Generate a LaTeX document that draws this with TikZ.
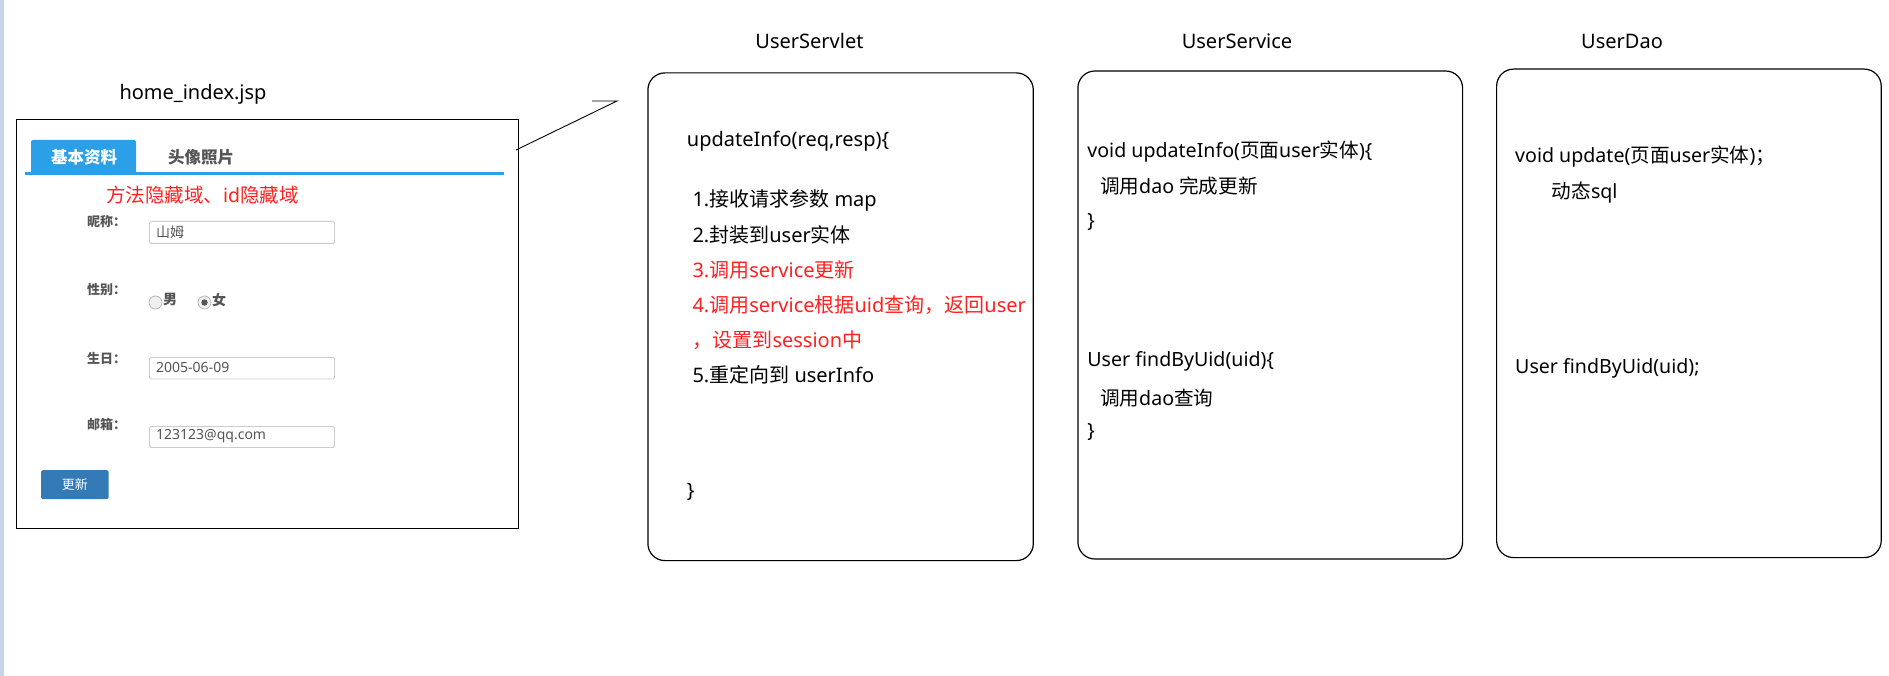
\documentclass[tikz,border=0pt]{standalone}
\usepackage{fontspec}
\setmainfont{Noto Sans}
\newfontfamily\cjf{Noto Sans CJK SC}
\newcommand\C[1]{{\cjf #1}}
\definecolor{stripcol}{RGB}{201,211,230}
\definecolor{tabblue}{RGB}{43,160,232}
\definecolor{labelgray}{RGB}{85,85,85}
\definecolor{inputborder}{RGB}{204,204,204}
\definecolor{intextgray}{RGB}{85,85,85}
\definecolor{btnblue}{RGB}{51,122,183}
\definecolor{hintred}{RGB}{255,32,32}
\begin{document}
\begin{tikzpicture}[x=1pt,y=-1pt,
  txt/.style={inner sep=0pt, anchor=west, font=\fontsize{19.6}{19.6}\selectfont},
  stxt/.style={inner sep=0pt, anchor=west, font=\fontsize{20}{20}\selectfont},
  redtxt/.style={stxt, text=hintred},
  titletxt/.style={inner sep=0pt, font=\fontsize{20}{20}\selectfont},
  rbox/.style={draw=black, line width=1.2pt, rounded corners=17pt, anchor=north west, inner sep=0pt},
  lbl/.style={inner sep=0pt, anchor=west, text=labelgray, font=\cjf\fontsize{13}{13}\selectfont\bfseries},
  inbox/.style={draw=inputborder, fill=white, line width=0.9pt, rounded corners=1.5pt, minimum width=185pt, anchor=north west, inner sep=0pt},
  intext/.style={inner sep=0pt, anchor=west, text=intextgray, font=\fontsize{14}{14}\selectfont},
  radio/.style={circle, draw=gray!55, fill=gray!12, line width=0.8pt, minimum size=13pt, inner sep=0pt}]
\useasboundingbox (0,0) rectangle (1889,676);
\fill[stripcol] (0,0) rectangle (4,676);

% ---- home_index.jsp form
\node[titletxt] (formtitle) at (193,94) {home\_index.jsp};
\node[draw=black, line width=1pt, minimum width=501.5pt, minimum height=409pt, anchor=north west, inner sep=0pt] (form) at (16,119) {};
\fill[tabblue, rounded corners=2pt] (31,140) rectangle (136,175);
\fill[tabblue] (25,172) rectangle (504,175);
\node[inner sep=0pt, text=white, font=\cjf\fontsize{16.5}{16.5}\selectfont\bfseries] (tab1) at (84,157) {基本资料};
\node[inner sep=0pt, text=labelgray, font=\cjf\fontsize{16.5}{16.5}\selectfont\bfseries] (tab2) at (201,157) {头像照片};
\node[inner sep=0pt, anchor=west, text=hintred, font=\fontsize{19.5}{19.5}\selectfont] (hint) at (106,195) {\C{方法隐藏域、}id\C{隐藏域}};

\node[lbl] (l1) at (87,222) {昵称：};
\node[lbl] (l2) at (87,290) {性别：};
\node[lbl] (l3) at (87,358) {生日：};
\node[lbl] (l4) at (87,425) {邮箱：};

\node[inbox, minimum height=22pt] (in1) at (149,221) {};
\node[intext] (t1) at (156,232) {\C{山姆}};
\node[radio] (r1) at (155.5,302.5) {};
\node[inner sep=0pt, anchor=west, text=labelgray, font=\cjf\fontsize{14}{14}\selectfont\bfseries] (male) at (163,300) {男};
\node[radio] (r2) at (204.5,302.5) {};
\fill[labelgray] (r2) circle (3.2pt);
\node[inner sep=0pt, anchor=west, text=labelgray, font=\cjf\fontsize{14}{14}\selectfont\bfseries] (female) at (212,300) {女};
\node[inbox, minimum height=21.5pt] (in3) at (149,357) {};
\node[intext] (t3) at (156,367.5) {2005-06-09};
\node[inbox, minimum height=21pt] (in4) at (149,426) {};
\node[intext] (t4) at (156,436.5) {123123@qq.com};

\node[fill=btnblue, rounded corners=1.5pt, minimum width=67.5pt, minimum height=29pt, anchor=north west, inner sep=0pt, text=white, font=\cjf\fontsize{13}{13}\selectfont] (btn) at (41,470) {更新};

% ---- connector
\coordinate (arrS) at (516,150);
\coordinate (arrE) at (617,101);
\draw[line width=0.9pt] (arrS) -- (arrE) -- ++(-25,0);

% ---- UserServlet
\node[titletxt] (servlettitle) at (809.5,41) {UserServlet};
\node[rbox, minimum width=385.4pt, minimum height=487.7pt] (servlet) at (647.3,72.3) {};
\node[stxt] (s0) at (686.7,141.7) {updateInfo(req,resp)\{};
\node[stxt] (s1) at (692.3,200) {1.\C{接收请求参数} map};
\node[stxt] (s2) at (692.3,235) {2.\C{封装到}user\C{实体}};
\node[redtxt] (s3) at (692.3,270) {3.\C{调用}service\C{更新}};
\node[redtxt] (s4) at (692.3,305) {4.\C{调用}service\C{根据}uid\C{查询，返回}user};
\node[redtxt] (s5) at (692.3,340) {\C{，设置到}session\C{中}};
\node[stxt] (s6) at (692.3,375) {5.\C{重定向到} userInfo};
\node[stxt] (s7) at (686.7,491.7) {\}};

% ---- UserService
\node[titletxt] (servicetitle) at (1237,41) {UserService};
\node[rbox, minimum width=384.7pt, minimum height=488pt] (service) at (1077.3,70.4) {};
\node[txt] (v0) at (1087.2,152) {void updateInfo(\C{页面}user\C{实体})\{};
\node[txt] (v1) at (1099.8,186.5) {\C{调用}dao \C{完成更新}};
\node[txt] (v2) at (1087.2,222.5) {\}};
\node[txt] (v3) at (1087.2,361.5) {User findByUid(uid)\{};
\node[txt] (v4) at (1099.8,397.8) {\C{调用}dao\C{查询}};
\node[txt] (v5) at (1087.2,432) {\}};

% ---- UserDao
\node[titletxt] (daotitle) at (1622,41) {UserDao};
\node[rbox, minimum width=384.6pt, minimum height=488.5pt] (dao) at (1496,68.5) {};
\node[txt] (d0) at (1515,157) {void update(\C{页面}user\C{实体})\C{；}};
\node[txt] (d1) at (1551.6,192.5) {\C{动态}sql};
\node[txt] (d2) at (1515,368.6) {User findByUid(uid);};
\end{tikzpicture}
\end{document}
